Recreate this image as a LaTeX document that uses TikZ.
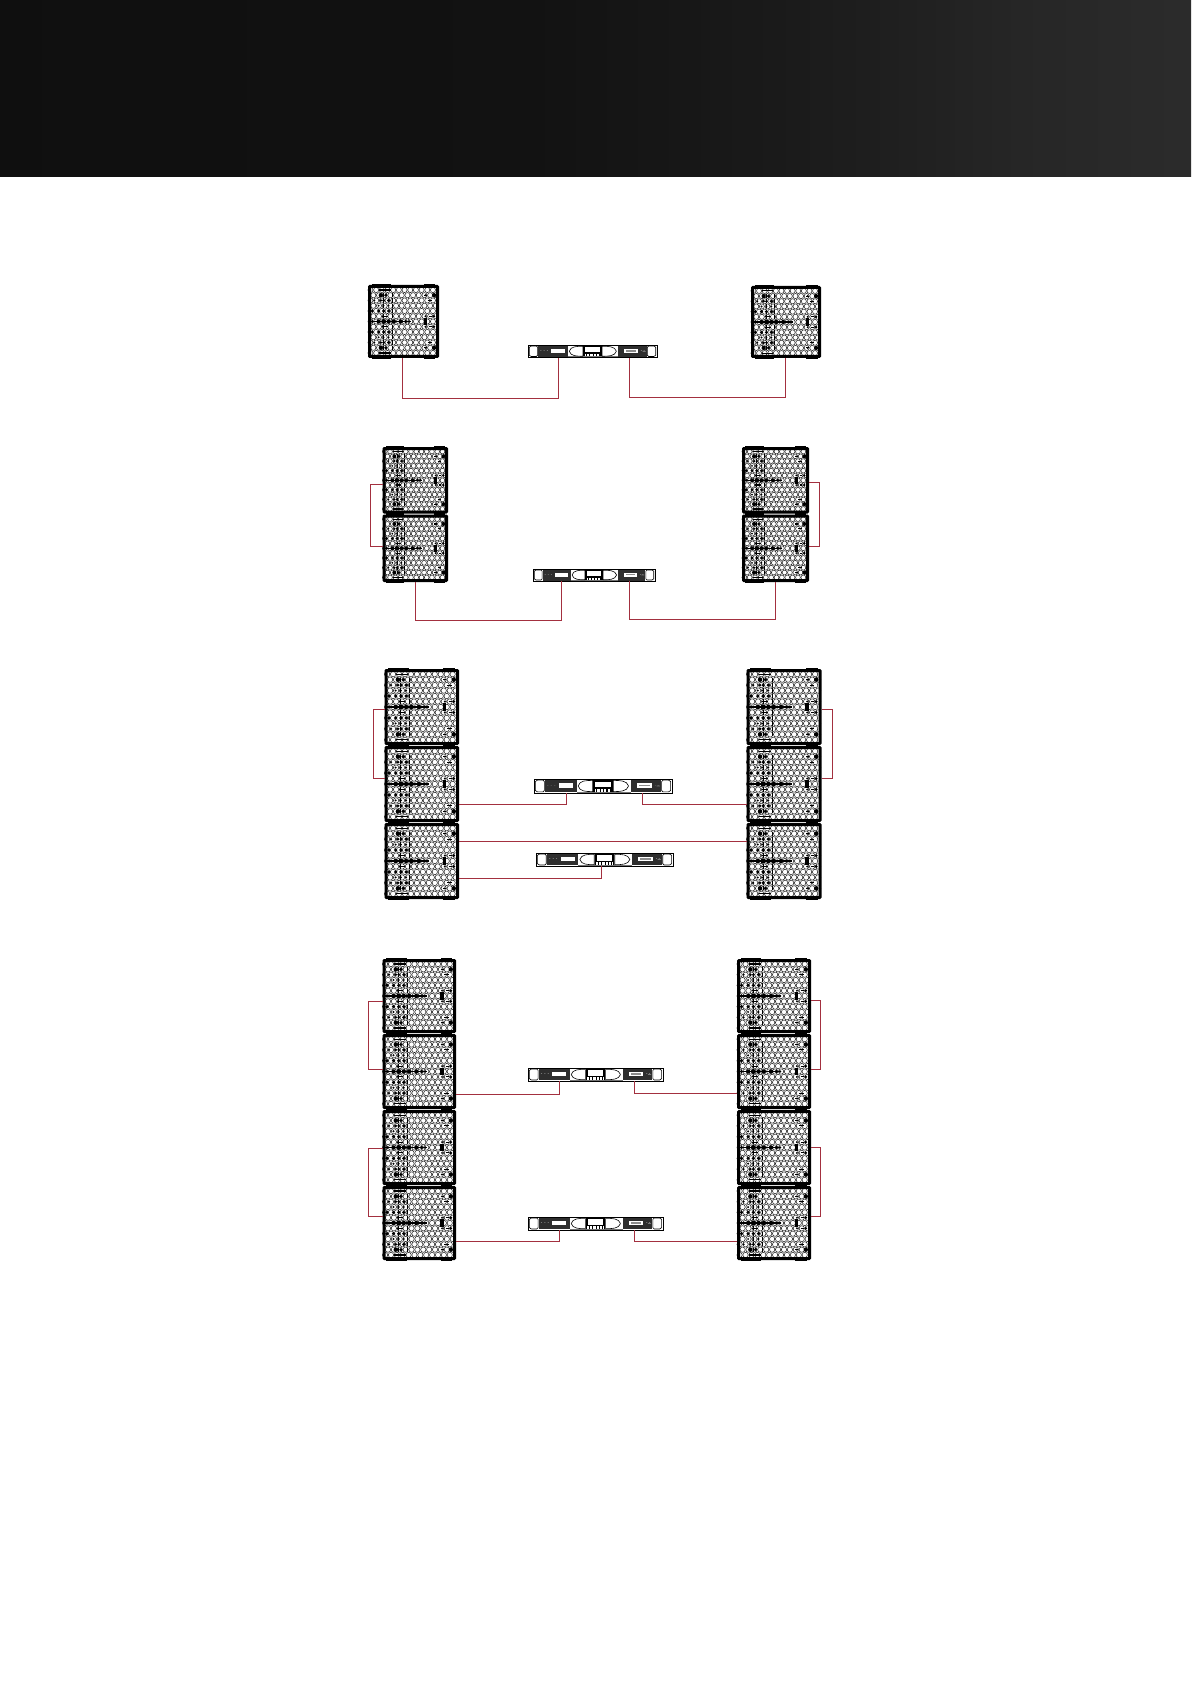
\documentclass[tikz,border=0pt]{standalone}
\usetikzlibrary{calc}
\definecolor{wirered}{HTML}{A3303F}
\pgfdeclarehorizontalshading{bannershade}{100bp}{
 color(0bp)=(black!94); color(25bp)=(black!94); color(47bp)=(black!93);
 color(57bp)=(black!90); color(62bp)=(black!88); color(68bp)=(black!85); color(75bp)=(black!83); color(100bp)=(black!83)}
\tikzset{
 wire/.style={draw=wirered,line width=0.5pt,line join=miter},
 spkframe/.style={draw=black,line width=1.5pt,rounded corners=0.3pt,inner sep=0pt,fill=none},
 ampframe/.style={draw=black,line width=0.45pt,inner sep=0pt,fill=none},
 holes/.style={draw=black!90,line width=0.25pt},
}
% dark marks of a loudspeaker face, in a 100 x 100 box
\newcommand\spkface{%
  \foreach \k in {0,...,12}{%
    \pgfmathsetmacro\yy{6.8+7.2*\k}%
    \pgfmathsetmacro\off{mod(\k,2)*4}%
    \foreach \j in {0,...,11}{%
      \draw[holes] ({3.5+\off+8*\j},\yy) circle[radius=3.6];
    }%
  }%
  \foreach \k/\x/\r in {1/18/3,1/25/2.4,1/81/1.5,1/93/3,
     2/9/1.5,2/18/2,2/22/2,2/29/2.4,
     3/15/1.5,3/22/1.5,3/29/1.5,
     4/6/2.4,4/15/2.4,4/22/2.4,4/29/2.4,
     5/81/1.5,5/93/2}{%
    \fill[black] (\x,{6.8+7.2*\k}) circle[radius=\r];
    \fill[black] (\x,{93.2-7.2*\k}) circle[radius=\r];
  }%
  \foreach \k in {1,2,3,4,5}{%
    \draw[black,line width=0.5pt] (34,{4+7.2*\k}) -- (34,{9.6+7.2*\k});
    \draw[black,line width=0.5pt] (34,{90.4-7.2*\k}) -- (34,{96-7.2*\k});
    \draw[black,line width=0.4pt] (22,{4+7.2*\k}) -- (22,{9.6+7.2*\k});
    \draw[black,line width=0.4pt] (22,{90.4-7.2*\k}) -- (22,{96-7.2*\k});
  }%
  \foreach \k/\a/\b in {0/16/32,5/20/28,1/79/83,2/84/90,5/86/90}{%
    \draw[black,line width=0.55pt] (\a,{6.8+7.2*\k}) -- (\b,{6.8+7.2*\k});
    \draw[black,line width=0.55pt] (\a,{93.2-7.2*\k}) -- (\b,{93.2-7.2*\k});
  }%
  \draw[black,line width=0.6pt] (3,50) -- (60,50);
  \foreach \x/\r in {6/2.2,15/3,22/3.4,29/3,36/3,46/3,53/2.4,58/2}{%
    \fill[black] (\x,50) circle[radius=\r];
  }%
  \fill[black] (78.5,45) rectangle (83,55);
  \foreach \a/\b in {5/33,79/95}{%
    \fill[black] (\a,-1.6) rectangle (\b,1);
    \fill[black] (\a,99) rectangle (\b,101.6);
  }%
}
% #1 name, #2 left, #3 top, #4 right, #5 bottom
\newcommand\speaker[5]{%
  \pgfmathsetmacro\bw{#4-#2}\pgfmathsetmacro\bh{#5-#3}%
  \begin{scope}[shift={(#2,#3)},xscale=\bw/100,yscale=\bh/100]\spkface\end{scope}
  \node[spkframe,minimum width=(\bw-3)*0.5pt,minimum height=(\bh-3)*0.5pt] (#1) at ({(#2+#4)/2},{(#3+#5)/2}) {};
}
\newcommand\ampface{%
  \fill[black!82] (8,4) rectangle (31,96);
  \fill[black!82] (70,4) rectangle (92,96);
  \fill[black] (43,0) rectangle (57,100);
  \fill[black!55] (31,0) rectangle (70,8);
  \fill[black!55] (31,92) rectangle (70,100);
  \fill[white] (18,30) rectangle (28.5,65);
  \fill[white] (74.5,30) rectangle (85.5,65);
  \fill[black!45] (76,42) rectangle (84,53);
  \fill[white] (44.5,18) rectangle (55.5,58);
  \fill[white] (44,72) rectangle (56,90);
  \foreach \x in {45,47.5,50,52.5,55}{\fill[black] (\x,72) rectangle (\x+0.8,90);}
  \foreach \x in {10,12.5,15,88,90}{\fill[white] (\x,44) circle[radius=.45];}
  \fill[white] (90,50) circle[radius=1.2];
  \draw[black,line width=0.3pt,fill=white] (32,50) .. controls (33,10) and (38,10) .. (42.5,10) -- (42.5,90) .. controls (38,90) and (33,90) .. (32,50);
  \draw[black,line width=0.3pt,fill=white] (68.5,50) .. controls (67.5,10) and (62,10) .. (57.5,10) -- (57.5,90) .. controls (62,90) and (67.5,90) .. (68.5,50);
  \draw[black,line width=0.3pt,fill=white] (1,18) -- (2.5,8) -- (6.5,8) -- (7.5,18) -- (7.5,82) -- (6.5,92) -- (2.5,92) -- (1,82) -- cycle;
  \draw[black,line width=0.3pt,fill=white] (99,18) -- (97.5,8) -- (93.5,8) -- (92.5,18) -- (92.5,82) -- (93.5,92) -- (97.5,92) -- (99,82) -- cycle;
}
\newcommand\amp[5]{%
  \pgfmathsetmacro\bw{#4-#2}\pgfmathsetmacro\bh{#5-#3}%
  \begin{scope}[shift={(#2,#3)},xscale=\bw/100,yscale=\bh/100]\ampface\end{scope}
  \node[ampframe,minimum width=\bw*0.5pt,minimum height=\bh*0.5pt] (#1) at ({(#2+#4)/2},{(#3+#5)/2}) {};
  \coordinate (#1l) at ($(#1.south west)!0.235!(#1.south east)$);
  \coordinate (#1c) at ($(#1.south west)!0.48!(#1.south east)$);
  \coordinate (#1r) at ($(#1.south west)!0.785!(#1.south east)$);
}
\begin{document}
\begin{tikzpicture}[x=0.5pt,y=-0.5pt]
\useasboundingbox (0,0) rectangle (1191,1684);
\shade[shading=bannershade] (0,0) rectangle (1191,177);
% row 1
\speaker{sa}{368}{285}{439}{358}
\speaker{sb}{751}{286}{821}{358}
\amp{aa}{528}{345}{657}{357.5}
\coordinate (ja) at (402,399); \coordinate (jb) at (785,398);
\draw[wire] (sa.south -| ja) -- (ja) -| (aal);
\draw[wire] (aar) |- (jb) -- (sb.south -| jb);
% row 2
\speaker{sc}{382.5}{447}{448}{513.5}
\speaker{sd}{382.5}{514.5}{448}{582}
\speaker{se}{742}{447}{809}{513.5}
\speaker{sf}{742}{514.5}{809}{582}
\amp{ab}{533}{569}{655}{581}
\coordinate (jc) at (370.5,484); \coordinate (jd) at (370.5,546);
\draw[wire] (sc.west |- jc) -- (jc) -- (jd) -- (sd.west |- jd);
\coordinate (je) at (819,482); \coordinate (jf) at (819,546);
\draw[wire] (se.east |- je) -- (je) -- (jf) -- (sf.east |- jf);
\coordinate (jg) at (415.5,620); \coordinate (jh) at (775,619);
\draw[wire] (sd.south -| jg) -- (jg) -| (abl);
\draw[wire] (abr) |- (jh) -- (sf.south -| jh);
% row 3
\speaker{sg}{384.5}{669}{459}{745}
\speaker{sh}{384.5}{746}{459}{822}
\speaker{si}{384.5}{823}{459}{899}
\speaker{sj}{746.5}{669}{821.5}{745}
\speaker{sk}{746.5}{746}{821.5}{822}
\speaker{sl}{746.5}{823}{821.5}{899}
\amp{ac}{534}{779}{672}{793}
\amp{ad}{536}{853}{673}{866}
\coordinate (ka) at (373,709); \coordinate (kb) at (373,778);
\draw[wire] (sg.west |- ka) -- (ka) -- (kb) -- (sh.west |- kb);
\coordinate (kc) at (832,709); \coordinate (kd) at (832,778.5);
\draw[wire] (sj.east |- kc) -- (kc) -- (kd) -- (sk.east |- kd);
\coordinate (ke) at (566,804); \coordinate (kf) at (642,804);
\draw[wire] (sh.east |- ke) -| (acl);
\draw[wire] (acr) |- (sk.west |- kf);
\coordinate (kg) at (459,841);
\draw[wire] (si.east |- kg) -- (sl.west |- kg);
\coordinate (kh) at (602,878);
\draw[wire] (si.east |- kh) -| (adc);
% row 4
\speaker{sm}{382.5}{959}{456}{1033}
\speaker{sn}{382.5}{1034}{456}{1109}
\speaker{so}{382.5}{1110}{456}{1185}
\speaker{sp}{382.5}{1186}{456}{1260}
\speaker{sq}{737}{959}{811}{1033}
\speaker{sr}{737}{1034}{811}{1109}
\speaker{ss}{737}{1110}{811}{1185}
\speaker{st}{737}{1186}{811}{1260}
\amp{ae}{528}{1068}{663}{1081}
\amp{af}{528}{1217}{663}{1230}
\coordinate (la) at (368.5,1001); \coordinate (lb) at (368.5,1069);
\draw[wire] (sm.west |- la) -- (la) -- (lb) -- (sn.west |- lb);
\coordinate (lc) at (368.5,1148); \coordinate (ld) at (368.5,1216);
\draw[wire] (so.west |- lc) -- (lc) -- (ld) -- (sp.west |- ld);
\coordinate (le) at (820.5,1000); \coordinate (lf) at (820.5,1069);
\draw[wire] (sq.east |- le) -- (le) -- (lf) -- (sr.east |- lf);
\coordinate (lg) at (820.5,1147); \coordinate (lh) at (820.5,1216);
\draw[wire] (ss.east |- lg) -- (lg) -- (lh) -- (st.east |- lh);
\coordinate (li) at (559.5,1094); \coordinate (lj) at (635,1093);
\draw[wire] (sn.east |- li) -| (ael);
\draw[wire] (aer) |- (sr.west |- lj);
\coordinate (lk) at (559.5,1241.5); \coordinate (lm) at (635,1241.5);
\draw[wire] (sp.east |- lk) -| (afl);
\draw[wire] (afr) |- (st.west |- lm);
\end{tikzpicture}
\end{document}
